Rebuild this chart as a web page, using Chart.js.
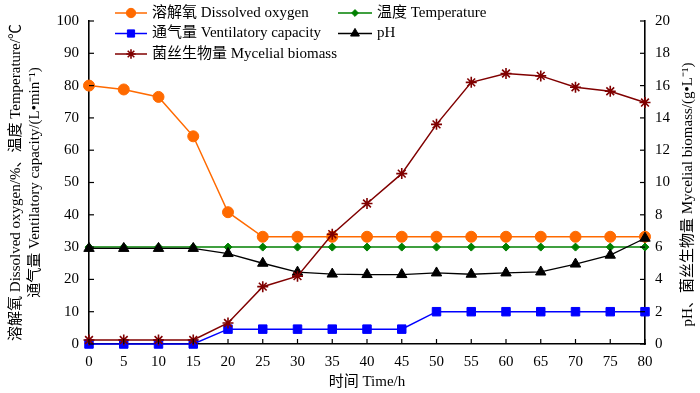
<!DOCTYPE html>
<html><head><meta charset="utf-8">
<script src="https://cdn.jsdelivr.net/npm/chart.js@4/dist/chart.umd.min.js"></script>
<style>html,body{margin:0;padding:0;background:#fff}</style>
</head><body>
<canvas id="c" width="700" height="393"></canvas>
<script>
// ---- data ----
const timeH = [0, 5, 10, 15, 20, 25, 30, 35, 40, 45, 50, 55, 60, 65, 70, 75, 80];
const dissolvedOxygen = [80, 78.8, 76.5, 64.3, 40.8, 33.2, 33.2, 33.2, 33.2, 33.2, 33.2, 33.2, 33.2, 33.2, 33.2, 33.2, 33.2];
const temperature = [30, 30, 30, 30, 30, 30, 30, 30, 30, 30, 30, 30, 30, 30, 30, 30, 30];
const ventilation = [0, 0, 0, 0, 4.6, 4.6, 4.6, 4.6, 4.6, 4.6, 10, 10, 10, 10, 10, 10, 10];
const pH = [5.92, 5.92, 5.92, 5.92, 5.6, 5.0, 4.45, 4.33, 4.3, 4.3, 4.4, 4.32, 4.4, 4.46, 4.95, 5.5, 6.55];
const biomass = [0.25, 0.25, 0.25, 0.25, 1.3, 3.55, 4.2, 6.8, 8.7, 10.55, 13.6, 16.2, 16.75, 16.6, 15.9, 15.65, 14.95];
const seriesNames = ['溶解氧 Dissolved oxygen', '温度 Temperature', '通气量 Ventilatory capacity', 'pH', '菌丝生物量 Mycelial biomass'];
const leftTitle = ['溶解氧 Dissolved oxygen/%、温度 Temperature/℃', '通气量 Ventilatory capacity/(L•min⁻¹)'];
const rightTitle = 'pH、菌丝生物量 Mycelial biomass/(g•L⁻¹)';
const xTitle = '时间 Time/h';

const FONT = "'Liberation Serif', 'Noto Sans CJK SC', serif";
Chart.defaults.color = '#000';
Chart.defaults.font.family = FONT;

const pts = arr => timeH.map((t, i) => ({x: t, y: arr[i]}));

function ds(label, arr, axis, color, style, radius, lw, order) {
  return {
    label, data: pts(arr), yAxisID: axis,
    borderColor: color, backgroundColor: color,
    pointBackgroundColor: color, pointBorderColor: color,
    pointStyle: style, pointRadius: radius, pointHoverRadius: radius,
    pointBorderWidth: style === 'star' ? 1.6 : 1,
    borderWidth: lw, tension: 0, clip: false, order
  };
}

const datasets = [
  ds(seriesNames[0], dissolvedOxygen, 'y', '#ff6a00', 'circle', 5.5, 1.5, 4),
  ds(seriesNames[1], temperature, 'y', '#008000', 'rectRot', 4, 1.5, 3),
  ds(seriesNames[2], ventilation, 'y', '#0000ff', 'rect', 6, 1.5, 2),
  ds(seriesNames[3], pH, 'y1', '#000000', 'triangle', 6, 1.3, 1),
  ds(seriesNames[4], biomass, 'y1', '#800000', 'star', 5.5, 1.5, 0)
];

const inwardTicks = {
  id: 'inwardTicks',
  afterDatasetsDraw(chart) {
    const ctx = chart.ctx, a = chart.chartArea;
    ctx.save();
    ctx.strokeStyle = '#000';
    ctx.lineWidth = 1.2;
    const L = 5;
    chart.scales.x.ticks.forEach(t => {
      const px = chart.scales.x.getPixelForValue(t.value);
      ctx.beginPath(); ctx.moveTo(px, a.bottom); ctx.lineTo(px, a.bottom - L); ctx.stroke();
    });
    chart.scales.y.ticks.forEach(t => {
      const py = chart.scales.y.getPixelForValue(t.value);
      ctx.beginPath(); ctx.moveTo(a.left, py); ctx.lineTo(a.left + L, py); ctx.stroke();
    });
    chart.scales.y1.ticks.forEach(t => {
      const py = chart.scales.y1.getPixelForValue(t.value);
      ctx.beginPath(); ctx.moveTo(a.right, py); ctx.lineTo(a.right - L, py); ctx.stroke();
    });
    ctx.restore();
  }
};

const rightAxisTitle = {
  id: 'rightAxisTitle',
  afterDraw(chart) {
    const ctx = chart.ctx, a = chart.chartArea;
    ctx.save();
    ctx.translate(688, (a.top + a.bottom) / 2 + 12);
    ctx.rotate(-Math.PI / 2);
    ctx.fillStyle = '#000';
    ctx.font = '15px ' + FONT;
    ctx.textAlign = 'center';
    ctx.textBaseline = 'middle';
    ctx.fillText(rightTitle, 0, 0);
    ctx.restore();
  }
};

const customLegend = {
  id: 'customLegend',
  afterDraw(chart) {
    const ctx = chart.ctx;
    // [datasetIndex, lineStartX, lineEndX, textX, rowY]
    const layout = [
      [0, 115, 147, 152, 13],
      [2, 115, 147, 152, 33.5],
      [4, 115, 147, 152, 54],
      [1, 338, 372, 377, 13],
      [3, 338, 372, 377, 33.5]
    ];
    ctx.save();
    layout.forEach(([i, x0, x1, tx, y]) => {
      const d = chart.data.datasets[i];
      ctx.strokeStyle = d.borderColor;
      ctx.fillStyle = d.backgroundColor;
      ctx.lineWidth = d.borderWidth;
      ctx.beginPath(); ctx.moveTo(x0, y); ctx.lineTo(x1, y); ctx.stroke();
      ctx.lineWidth = d.pointBorderWidth;
      Chart.helpers.drawPoint(ctx, {pointStyle: d.pointStyle, radius: d.pointRadius * 0.85, rotation: 0, borderWidth: d.pointBorderWidth}, (x0 + x1) / 2, y);
      ctx.fillStyle = '#000';
      ctx.font = '15px ' + FONT;
      ctx.textBaseline = 'middle';
      ctx.textAlign = 'left';
      ctx.fillText(d.label, tx, y);
    });
    ctx.restore();
  }
};

const axisBorder = {display: true, color: '#000', width: 1.6};
const noGrid = {display: true, drawOnChartArea: false, drawTicks: false};

new Chart(document.getElementById('c'), {
  type: 'line',
  data: {datasets},
  plugins: [inwardTicks, customLegend, rightAxisTitle],
  options: {
    responsive: false,
    animation: false,
    devicePixelRatio: 1,
    layout: {padding: {top: 21, left: 0, right: 0, bottom: 0}},
    plugins: {legend: {display: false}, tooltip: {enabled: false}},
    scales: {
      x: {
        type: 'linear', min: 0, max: 80,
        ticks: {stepSize: 5, font: {size: 15}, padding: 9, color: '#000'},
        grid: noGrid, border: axisBorder,
        title: {display: true, text: xTitle, font: {size: 15}, color: '#000', padding: {top: 0, bottom: 2}},
        afterFit: s => { s.height = 49; }
      },
      y: {
        position: 'left', min: 0, max: 100,
        ticks: {stepSize: 10, font: {size: 15}, padding: 10, color: '#000'},
        grid: noGrid, border: axisBorder,
        title: {display: true, text: leftTitle, font: {size: 15, lineHeight: 1.27}, color: '#000', padding: {top: 6.5, bottom: 0}},
        afterFit: s => { s.width = 89; }
      },
      y1: {
        position: 'right', min: 0, max: 20,
        ticks: {stepSize: 2, font: {size: 15}, padding: 10, color: '#000'},
        grid: noGrid, border: axisBorder,
        title: {display: false},
        afterFit: s => { s.width = 55; }
      }
    }
  }
});
</script>
</body></html>
